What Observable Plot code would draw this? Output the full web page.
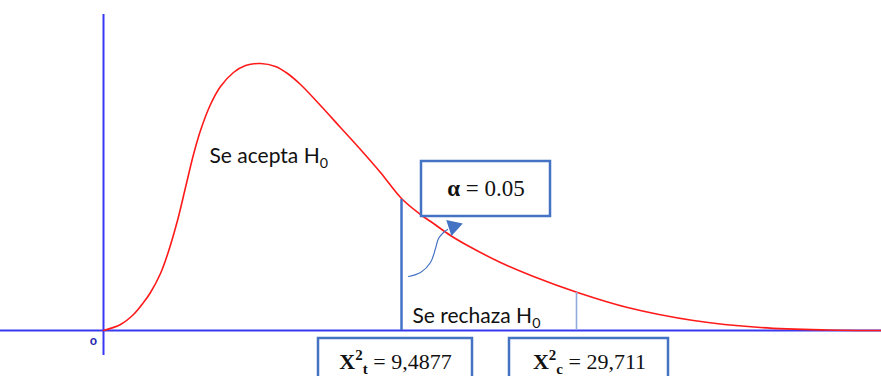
<!DOCTYPE html>
<html>
<head>
<meta charset="utf-8">
<script src="https://cdn.jsdelivr.net/npm/d3@7"></script>
<script src="https://cdn.jsdelivr.net/npm/@observablehq/plot@0.6"></script>
<style>
  html, body { margin: 0; padding: 0; background: #fff; }
  #chart svg { display: block; background: #fff; }
</style>
</head>
<body>
<div id="chart"></div>
<script>
// Schematic chi-square density (horizontal units: schematic, 0 at the origin)
const curveX = [0, 17, 30, 40, 47, 57, 64, 74, 82, 90, 97, 107, 117, 130, 142, 157, 172, 184, 197, 217, 237, 257, 277, 298, 317, 330, 347, 364, 397, 430, 474, 524, 590, 657, 724, 778];
const curveY = [0, 6, 16, 28, 38, 57, 76, 110, 143, 176, 200, 226, 244, 258, 265, 267, 264, 257, 246, 225, 203, 181, 158, 132, 116, 107, 95, 85, 68, 54, 38, 23, 10, 3, 0.5, 0];

// Critical (table) and calculated statistic positions on the schematic axis
const markX = [298, 473];
const markTop = [131, 38];

// Connector from the rejection region to the alpha box
const connX = [305, 317, 327, 332, 335, 340, 344];
const connY = [54, 58, 68, 82, 92, 98, 101];

// Label boxes
const boxX1 = [318, 215, 406];
const boxX2 = [447, 369, 565];
const boxY1 = [114, -60, -60];
const boxY2 = [169, -8, -8];

// Labels
const sansLabels = ["Se acepta H_{0}", "Se rechaza H_{0}"];
const sansX = [106, 309];
const sansY = [168, 8];
const serifLabels = ["**α** = 0.05", "**X^{2}_{t}** = 9,4877", "**X^{2}_{c}** = 29,711"];
const serifX = [382.5, 292, 486];
const serifY = [135, -38, -38];
const serifSize = [23, 22, 22];
const originLabel = ["o"];

const idx = (a) => a.map((_, i) => i);
const curve = curveX.map((x, i) => ({x, y: curveY[i]}));
const conn = connX.map((x, i) => ({x, y: connY[i]}));

const AXIS = "#3838f2";
const BLUE = "#4472c4";

const chart = Plot.plot({
  width: 881,
  height: 376,
  margin: 0,
  x: {domain: [-103, 778], axis: null},
  y: {domain: [-46, 330], axis: null},
  marks: [
    Plot.ruleY([0], {x1: -103, x2: 778, stroke: AXIS, strokeWidth: 2}),
    Plot.ruleX([0], {y1: -25, y2: 316, stroke: AXIS, strokeWidth: 2}),
    Plot.line(curve, {x: "x", y: "y", stroke: "#ff1a1a", strokeWidth: 1.6, curve: "catmull-rom"}),
    Plot.ruleX([markX[0]], {y1: 0, y2: markTop[0], stroke: BLUE, strokeWidth: 2.5}),
    Plot.ruleX([markX[1]], {y1: 0, y2: markTop[1], stroke: "#8faadc", strokeWidth: 1.6}),
    Plot.line(conn, {x: "x", y: "y", stroke: BLUE, strokeWidth: 1.2, curve: "catmull-rom"}),
    Plot.dot([0], {x: () => 350, y: () => 104, symbol: "triangle", r: 6.3, rotate: 72, fill: BLUE, stroke: null}),
    Plot.rect(idx(boxX1), {x1: (i) => boxX1[i], x2: (i) => boxX2[i], y1: (i) => boxY1[i], y2: (i) => boxY2[i], fill: "white", stroke: BLUE, strokeWidth: 2.5}),
    Plot.text(idx(sansLabels), {x: (i) => sansX[i], y: (i) => sansY[i], text: (i) => sansLabels[i], textAnchor: "start", lineAnchor: "bottom", fontFamily: "Lato", fontSize: 21, fill: "#111"}),
    ...idx(serifLabels).map((i) =>
      Plot.text([i], {x: () => serifX[i], y: () => serifY[i], text: () => serifLabels[i], textAnchor: "middle", lineAnchor: "bottom", fontFamily: "Liberation Serif", fontSize: serifSize[i], fill: "#111"})
    ),
    Plot.text(originLabel, {x: () => -10, y: () => -11, text: (d) => d, fontFamily: "Liberation Sans", fontWeight: "bold", fontSize: 12, fill: "#2b2bb0"})
  ]
});

// Rich text: **bold**, ^{sup}, _{sub}
const NS = "http://www.w3.org/2000/svg";
function rich(el, s, size) {
  el.textContent = "";
  let bold = false, shift = 0;
  const re = /(\*\*)|\^\{([^}]*)\}|_\{([^}]*)\}|([^*^_]+)/g;
  let m;
  while ((m = re.exec(s))) {
    if (m[1]) { bold = !bold; continue; }
    let content, target;
    if (m[2] !== undefined) { content = m[2]; target = -0.4; }
    else if (m[3] !== undefined) { content = m[3]; target = 0.25; }
    else { content = m[4]; target = 0; }
    const ts = document.createElementNS(NS, "tspan");
    ts.textContent = content;
    if (target !== shift) ts.setAttribute("dy", ((target - shift) * size) + "px");
    shift = target;
    if (target !== 0) ts.setAttribute("font-size", (0.68 * size) + "px");
    if (bold) ts.setAttribute("font-weight", "bold");
    el.appendChild(ts);
  }
}
document.getElementById("chart").appendChild(chart);
chart.querySelectorAll("text").forEach((t) => {
  const s = t.textContent;
  if (/[*^_]/.test(s)) {
    const size = parseFloat(getComputedStyle(t).fontSize) || 20;
    rich(t, s, size);
  }
});
</script>
</body>
</html>
